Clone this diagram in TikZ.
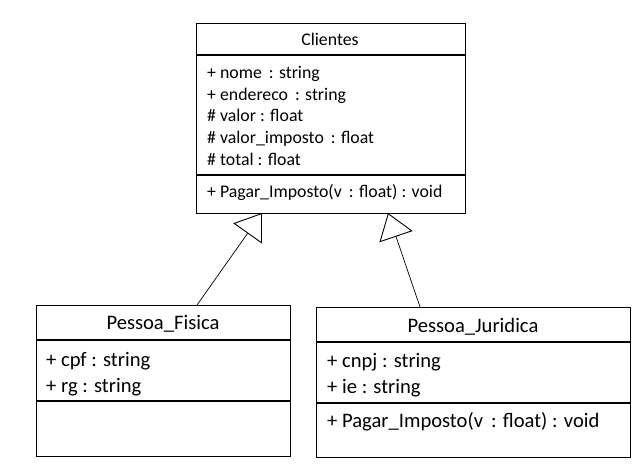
\documentclass[tikz,border=0pt]{standalone}
\usepackage{fontspec}
\setmainfont{Carlito}
\usetikzlibrary{arrows.meta}

\tikzset{
  classbox/.style={draw, line width=1.1pt, inner sep=0pt, anchor=north west},
  small/.style={font=\fontsize{17.8}{20}\selectfont, inner sep=0pt, anchor=base west},
  large/.style={font=\fontsize{20.6}{24}\selectfont, inner sep=0pt, anchor=base west},
  inherit/.style={line width=0.7pt, -{Triangle[open, length=25pt, width=35pt, line width=0.9pt]}}
}

\begin{document}
\begin{tikzpicture}[x=1pt, y=-1pt]
        \useasboundingbox (0,0) rectangle (642,472);

        % Clientes
        \begin{scope}
            \node[classbox, minimum width=269pt, minimum height=190pt] (clientes) at (196, 23) {};
            \draw[line width=1.1pt] (196, 55) -- (465, 55);
            \draw[line width=1.1pt] (196, 175) -- (465, 175);

            \node[small, anchor=base] (cliTitle) at (330, 45) {Clientes};

            \node[small] (cliNome) at (207, 78) {+ nome\,\ : string};
            \node[small] (cliEnd) at (207, 100) {+ endereco\,\ : string};
            \node[small] (cliValor) at (207, 121) {\# valor : float};
            \node[small] (cliImp) at (207, 143) {\# valor\_imposto\,\ : float};
            \node[small] (cliTotal) at (207, 165) {\# total : float};

            \node[small] (cliPagar) at (207, 197) {+ Pagar\_Imposto(v\,\ : float) : void};
        \end{scope}

        % Pessoa_Fisica
        \begin{scope}
            \node[classbox, minimum width=254pt, minimum height=151pt] (fisica) at (36, 305) {};
            \draw[line width=1.1pt] (36, 340) -- (290, 340);
            \draw[line width=1.1pt] (36, 401) -- (290, 401);

            \node[large, anchor=base] (fisTitle) at (163, 329) {Pessoa\_Fisica};

            \node[large] (fisCpf) at (46, 366) {+ cpf : string};
            \node[large] (fisRg) at (46, 392) {+ rg : string};
        \end{scope}

        % Pessoa_Juridica
        \begin{scope}
            \node[classbox, minimum width=314pt, minimum height=150pt] (juridica) at (316, 307) {};
            \draw[line width=1.1pt] (316, 342) -- (630, 342);
            \draw[line width=1.1pt] (316, 403) -- (630, 403);

            \node[large, anchor=base] (jurTitle) at (473, 332) {Pessoa\_Juridica};

            \node[large] (jurCnpj) at (327, 367) {+ cnpj : string};
            \node[large] (jurIe) at (327, 393) {+ ie : string};

            \node[large] (jurPagar) at (327, 427) {+ Pagar\_Imposto(v\,\ : float) : void};
        \end{scope}

        % generalisations
        \coordinate (fisTop) at (197, 305);
        \coordinate (cliLeft) at (262, 213);
        \coordinate (jurTop) at (420, 307);
        \coordinate (cliRight) at (388, 213);

        \draw[inherit] (fisTop) -- (cliLeft);
        \draw[inherit] (jurTop) -- (cliRight);

\end{tikzpicture}
\end{document}
